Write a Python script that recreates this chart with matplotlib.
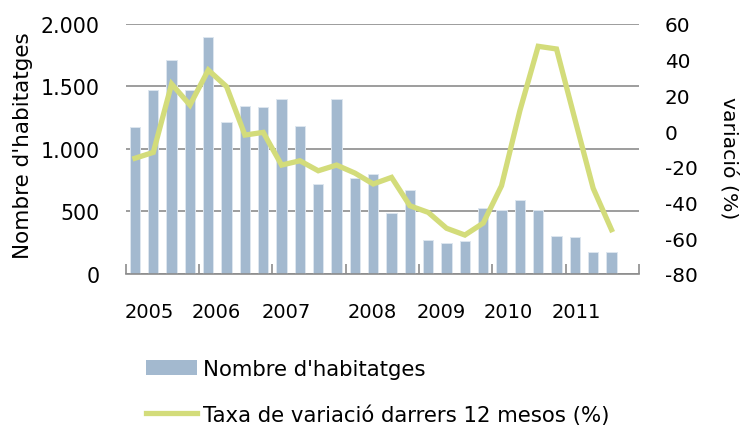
import numpy as np
import matplotlib
matplotlib.use("Agg")
import matplotlib.pyplot as plt
from matplotlib.patches import Patch
from matplotlib.lines import Line2D

# quarterly values, 2005 Q1 .. 2011 Q4 (last quarter empty)
habitatges = [1173, 1475, 1715, 1475, 1896, 1216, 1347, 1339, 1403, 1184,
              717, 1397, 768, 800, 485, 669, 272, 251, 267, 528,
              509, 592, 512, 307, 296, 179, 173]
variacio = [-15.2, -11.9, 26.4, 14.6, 34.2, 24.9, -2.2, -0.7, -19.0, -16.6,
            -22.2, -19.0, -23.5, -29.6, -25.9, -41.8, -45.5, -54.4, -58.2, -51.5,
            -30.6, 11.4, 47.5, 46.0, 6.8, -32.0, -55.2]
n_cat = 28
years = ["2005", "2006", "2007", "2008", "2009", "2010", "2011"]
left_ticks = [0, 500, 1000, 1500, 2000]
left_labels = ["0", "500", "1.000", "1.500", "2.000"]
right_ticks = [-80, -60, -40, -20, 0, 20, 40, 60]

BAR_COLOR = "#A3B9CF"
LINE_COLOR = "#D3DC7A"
GRID_COLOR = "#8C8C8C"

fig = plt.figure(figsize=(7.4, 4.27), dpi=100)
ax = fig.add_axes([0.170, 0.356, 0.6935, 0.5855])
x = np.arange(len(habitatges))

ax.bar(x, habitatges, width=0.56, color=BAR_COLOR, edgecolor="#DDE6EF",
       linewidth=0.7, zorder=2)
ax.set_xlim(-0.5, n_cat - 0.5)
ax.set_ylim(0, 2000)
ax.set_axisbelow(True)
ax.yaxis.grid(True, color=GRID_COLOR, linewidth=1.2)
for s in ["top", "right", "left"]:
    ax.spines[s].set_visible(False)
ax.spines["bottom"].set_color(GRID_COLOR)
ax.spines["bottom"].set_linewidth(1.2)

ax.set_yticks(left_ticks)
ax.set_yticklabels(left_labels, fontsize=14.8)
ax.tick_params(axis="y", length=0, pad=19)

# category boundaries as tick marks, year labels as minor ticks
ax.set_xticks(np.arange(-0.5, n_cat, 4))
ax.set_xticklabels([])
ax.tick_params(axis="x", which="major", direction="in", length=7,
               color=GRID_COLOR, width=1.2)
label_pos = [0.81, 4.46, 8.23, 12.92, 16.69, 20.34, 24.1]
ax.set_xticks(label_pos, minor=True)
ax.set_xticklabels(years, minor=True, fontsize=14)
ax.tick_params(axis="x", which="minor", length=0, pad=20)

ax2 = ax.twinx()
ax2.plot(x, variacio, color=LINE_COLOR, linewidth=3.8, solid_joinstyle="miter",
         zorder=3)
ax2.set_ylim(-80, 60)
for s in ax2.spines.values():
    s.set_visible(False)
ax2.set_yticks(right_ticks)
ax2.set_yticklabels([str(v) for v in right_ticks], fontsize=14.4)
ax2.tick_params(axis="y", length=0, pad=18.5)

fig.text(0.031, 0.66, "Nombre d'habitatges", rotation=90, fontsize=15.5,
         ha="center", va="center")
fig.text(0.985, 0.63, "variació (%)", rotation=-90, fontsize=14.7,
         ha="center", va="center")

handles = [Patch(facecolor=BAR_COLOR, edgecolor="none"),
           Line2D([], [], color=LINE_COLOR, linewidth=3.8)]
fig.legend(handles, ["Nombre d'habitatges", "Taxa de variació darrers 12 mesos (%)"],
           loc="upper left", bbox_to_anchor=(0.197, 0.158), frameon=False,
           fontsize=15.3, handlelength=2.4, handletextpad=0.28,
           labelspacing=1.2, borderpad=0, borderaxespad=0)

fig.savefig("out.png", dpi=100)
